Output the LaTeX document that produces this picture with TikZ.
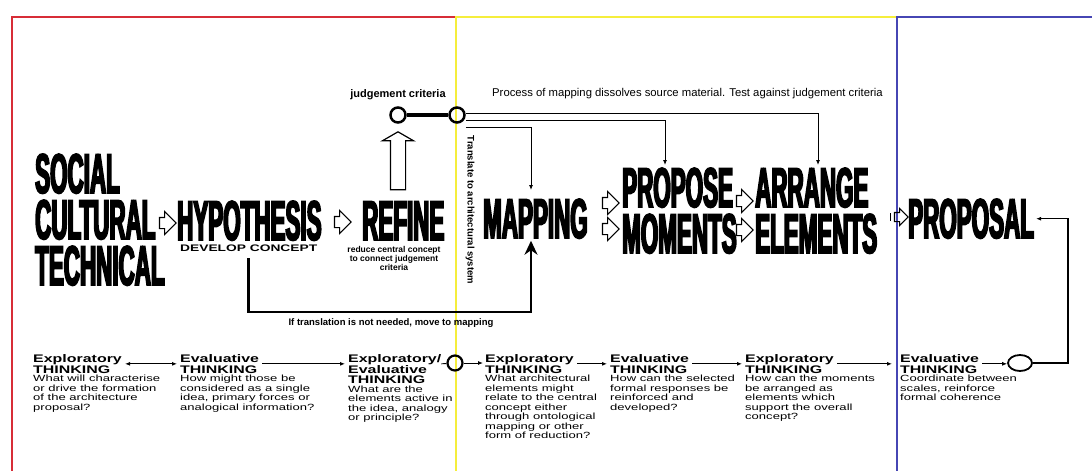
\documentclass[tikz,border=0pt]{standalone}
\usepackage{fontspec}
\setmainfont{Liberation Sans}
\newfontfamily\bigfont{Liberation Sans}[FakeStretch=0.4,FakeBold=3]
\newfontfamily\widefont{Liberation Sans}[FakeStretch=1.45]
\usetikzlibrary{positioning,arrows.meta,shapes.arrows,shapes.geometric,calc}

\definecolor{framered}{RGB}{215,45,55}
\definecolor{frameyellow}{RGB}{245,238,60}
\definecolor{frameblue}{RGB}{70,70,180}

\tikzset{
  bigword/.style={inner sep=0pt, align=left, font=\bigfont\bfseries\fontsize{56}{46}\selectfont},
  wordarrow/.style={single arrow, draw, line width=1.1pt, inner sep=5pt, minimum height=15pt,
    single arrow head extend=6pt},
  thinktitle/.style={inner sep=0pt, align=left, font=\widefont\bfseries\fontsize{11}{10.5}\selectfont},
  thinkbody/.style={inner sep=0pt, align=left, font=\widefont\fontsize{9}{9.5}\selectfont},
  flow/.style={-{Latex[length=5pt,width=4pt]}, line width=0.9pt},
  hub/.style={circle, draw, line width=2.5pt, minimum size=15pt, inner sep=0pt},
  loopline/.style={line width=2.5pt, -{Stealth[length=14pt,width=13pt]}},
  note/.style={inner sep=0pt, font=\bfseries\fontsize{9.5}{9.5}\selectfont},
}

\begin{document}
\begin{tikzpicture}[x=1pt,y=-1pt]
\useasboundingbox[fill=white] (0,0) rectangle (1092,471);
% frames
\draw[framered, line width=2.5pt] (12,471) -- (12,17) -- (456,17);
\draw[frameyellow, line width=2.5pt] (456,471) -- (456,17) -- (896,17);
\draw[frameblue, line width=2.5pt] (897,471) -- (897,17) -- (1092,17);

% stages
\node[bigword, anchor=base west] (sct) at (35,285) {SOCIAL\\CULTURAL\\TECHNICAL};
\node[bigword, anchor=base west] (hyp) at (177,240) {HYPOTHESIS};
\node[inner sep=0pt, font=\widefont\bfseries\fontsize{9.5}{9.5}\selectfont, anchor=base west] (devc) at (180,251) {DEVELOP CONCEPT};
\node[bigword, anchor=base west] (refine) at (362,240) {REFINE};
\node[inner sep=0pt, align=center, font=\bfseries\fontsize{8.5}{9}\selectfont, anchor=base] (refnote) at (394,270) {reduce central concept\\to connect judgement\\criteria};
\node[bigword, anchor=base west] (mapping) at (483,238) {MAPPING};
\node[bigword, anchor=base west] (propose) at (622,253) {PROPOSE\\MOMENTS};
\node[bigword, anchor=base west] (arrange) at (755,253) {ARRANGE\\ELEMENTS};
\node[bigword, anchor=base west] (proposal) at (908,238) {PROPOSAL};

\node[wordarrow] (a1) at (165,223) {};
\node[wordarrow] (a2) at (340,222) {};
\node[wordarrow] (a3) at (608,203) {};
\node[wordarrow] (a4) at (608,229) {};
\node[wordarrow] (a5) at (742,201) {};
\node[wordarrow] (a6) at (742,230) {};
\node[wordarrow, inner sep=4pt, minimum height=9pt, single arrow head extend=4pt] (a7) at (899,217) {};
\draw[line width=1pt] (890,213) -- (890,221);

% judgement criteria
\node[inner sep=0pt, font=\bfseries\fontsize{11}{11}\selectfont, anchor=base] (jtext) at (398,97) {judgement criteria};
\node[hub] (judge) at (398,115) {};
\node[hub] (thub) at (457,115) {};
\draw[line width=4pt] (judge) -- (thub);
\node[single arrow, draw, line width=1.2pt, inner sep=7pt, shape border rotate=90, minimum height=58pt,
  single arrow head extend=8pt, single arrow tip angle=120] (uparrow) at (398,163) {};
\node[inner sep=0pt, font=\fontsize{11.3}{11}\selectfont, anchor=base west] (ptext) at (492,96)
  {Process of mapping dissolves source material. Test against judgement criteria};
\coordinate (ptarget) at (665,165);
\coordinate (atarget) at (818,165);
\coordinate (mtarget) at (531,190);
\draw[flow] ([yshift=2pt]thub.east) -| (atarget);
\draw[flow] ([yshift=-5pt]thub.east) -| (ptarget);
\draw[flow] ([yshift=-12pt]thub.east) -| (mtarget);
\node[note, rotate=-90] (translate) at (470,210) {Translate to architectural system};

% bypass
\coordinate (loopbot) at (531,312);
\draw[loopline] ([yshift=-7pt]devc.south) |- (loopbot) -- ([yshift=-2pt]loopbot |- mapping.south);
\node[note, anchor=base] (bypass) at (391,325) {If translation is not needed, move to mapping};

% thinking modes
\node[thinktitle, anchor=base west] (e1) at (33,373) {Exploratory\\THINKING};
\node[thinkbody, below=1.5pt of e1.south west, anchor=north west] (b1) {What will characterise\\or drive the formation\\of the architecture\\proposal?};
\node[thinktitle, anchor=base west] (e2) at (180,373) {Evaluative\\THINKING};
\node[thinkbody, below=1.5pt of e2.south west, anchor=north west] (b2) {How might those be\\considered as a single\\idea, primary forces or\\analogical information?};
\node[thinktitle, anchor=base west] (e3) at (348,383.5) {Exploratory/\\Evaluative\\THINKING};
\node[thinkbody, below=1.5pt of e3.south west, anchor=north west] (b3) {What are the\\elements active in\\the idea, analogy\\or principle?};
\node[thinktitle, anchor=base west] (e4) at (485,373) {Exploratory\\THINKING};
\node[thinkbody, below=1.5pt of e4.south west, anchor=north west] (b4) {What architectural\\elements might\\relate to the central\\concept either\\through ontological\\mapping or other\\form of reduction?};
\node[thinktitle, anchor=base west] (e5) at (610,373) {Evaluative\\THINKING};
\node[thinkbody, below=1.5pt of e5.south west, anchor=north west] (b5) {How can the selected\\formal responses be\\reinforced and\\developed?};
\node[thinktitle, anchor=base west] (e6) at (745,373) {Exploratory\\THINKING};
\node[thinkbody, below=1.5pt of e6.south west, anchor=north west] (b6) {How can the moments\\be arranged as\\elements which\\support the overall\\concept?};
\node[thinktitle, anchor=base west] (e7) at (900,373) {Evaluative\\THINKING};
\node[thinkbody, below=1.5pt of e7.south west, anchor=north west] (b7) {Coordinate between\\scales, reinforce\\formal coherence};

\node[hub, line width=2.2pt] (bhub) at (455,363) {};
\node[ellipse, draw, line width=1.8pt, minimum width=24pt, minimum height=16pt, inner sep=0pt] (endhub) at (1020,363) {};
\coordinate (loopcorner) at (1068,363);

\draw[{Latex[length=5pt,width=4pt]}-{Latex[length=5pt,width=4pt]}, line width=0.9pt, shorten <=3pt, shorten >=3pt] (e1.east) -- (e1.east -| e2.west);
\draw[flow, shorten <=3pt, shorten >=3pt] (e2.east) -- (e2.east -| e3.west);
\draw[line width=0.9pt] (e2.east -| e3.east) -- (bhub);
\draw[flow, shorten >=2pt] (bhub) -- (bhub -| e4.west);
\draw[flow, shorten <=3pt, shorten >=3pt] (e4.east) -- (e5.west);
\draw[flow, shorten <=3pt, shorten >=3pt] (e5.east) -- (e6.west);
\draw[flow, shorten <=3pt, shorten >=8pt] (e6.east) -- (e7.west);
\draw[flow, shorten <=3pt] (e7.east) -- (e7.east -| endhub.west);
\draw[flow, line width=1.2pt, shorten >=2pt] (endhub) -- (loopcorner) |- (proposal.east);
\end{tikzpicture}
\end{document}
